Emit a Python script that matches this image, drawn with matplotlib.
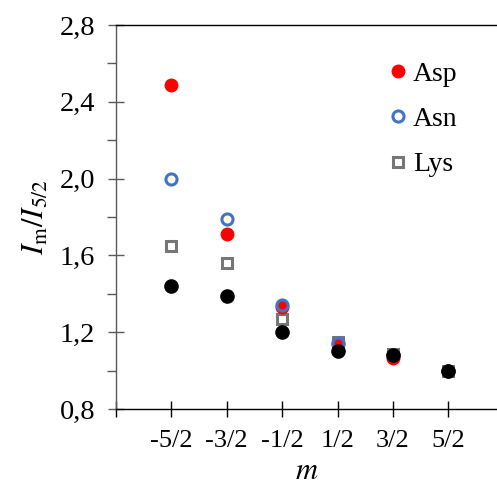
import numpy as np
import matplotlib.pyplot as plt
from matplotlib.ticker import MultipleLocator, FixedLocator, FuncFormatter

plt.rcParams['font.family'] = ['Liberation Serif', 'DejaVu Serif']

# Datos
m_etiquetas = ["-5/2", "-3/2", "-1/2", "1/2", "3/2", "5/2"]
asp = [2.49, 1.71, 1.33, 1.14, 1.065, 1.00]
asn = [2.00, 1.79, 1.34, 1.145, 1.08, 1.00]
lys = [1.65, 1.56, 1.27, 1.15, 1.085, 1.00]
ref = [1.44, 1.39, 1.20, 1.10, 1.08, 1.00]

x = np.arange(1, len(m_etiquetas) + 1)

fig = plt.figure(figsize=(4.97, 4.97), dpi=100)
ax = fig.add_axes([116/497, 88/497, 1 - 116/497, (409 - 25)/497])

gris_eje = '#595959'

ax.plot(x, lys, 's', ms=7.5, mfc='white', mec='#767676', mew=2.2, ls='none', label='Lys', zorder=3)
ax.plot(x, asp, 'o', ms=9, color='#FF0000', ls='none', label='Asp', zorder=4)
ax.plot(x, asn, 'o', ms=8, mfc='none', mec='#4472C4', mew=2.2, ls='none', label='Asn', zorder=5)
ax.plot(x, ref, 'o', ms=9.5, color='black', ls='none', zorder=6)

ax.set_xlim(0, 6.88)
ax.set_ylim(0.8, 2.8)

ax.xaxis.set_major_locator(FixedLocator(range(0, 7)))
ax.set_xticklabels([""] + m_etiquetas)
ax.yaxis.set_major_locator(MultipleLocator(0.4))
ax.yaxis.set_minor_locator(MultipleLocator(0.2))
ax.yaxis.set_major_formatter(FuncFormatter(lambda v, p: ("%.1f" % v).replace('.', ',')))

ax.tick_params(axis='x', which='major', direction='inout', length=12, width=1, color='black',
               labelsize=19, pad=9)
ax.tick_params(axis='y', which='major', direction='inout', length=12, width=1, color=gris_eje,
               labelsize=20.5, pad=9)
ax.tick_params(axis='y', which='minor', direction='out', length=6.5, width=1, color=gris_eje)

ax.spines['right'].set_visible(False)
ax.spines['left'].set_color(gris_eje)
ax.spines['bottom'].set_color('black')
ax.spines['top'].set_color('black')
for s in ax.spines.values():
    s.set_linewidth(1)

ax.set_xlabel("$m$", fontsize=22, labelpad=4, math_fontfamily='stix')
ax.set_ylabel("$I_\\mathrm{m}/I_{5/2}$", fontsize=22, labelpad=6, math_fontfamily='stix')

handles, labels = ax.get_legend_handles_labels()
orden = [1, 2, 0]
ax.legend([handles[i] for i in orden], [labels[i] for i in orden], loc='upper left',
          bbox_to_anchor=(0.67, 0.935), frameon=False, fontsize=20, handletextpad=0.0,
          handlelength=1.1, labelspacing=0.72, borderaxespad=0)

fig.savefig("out.png", dpi=100)
